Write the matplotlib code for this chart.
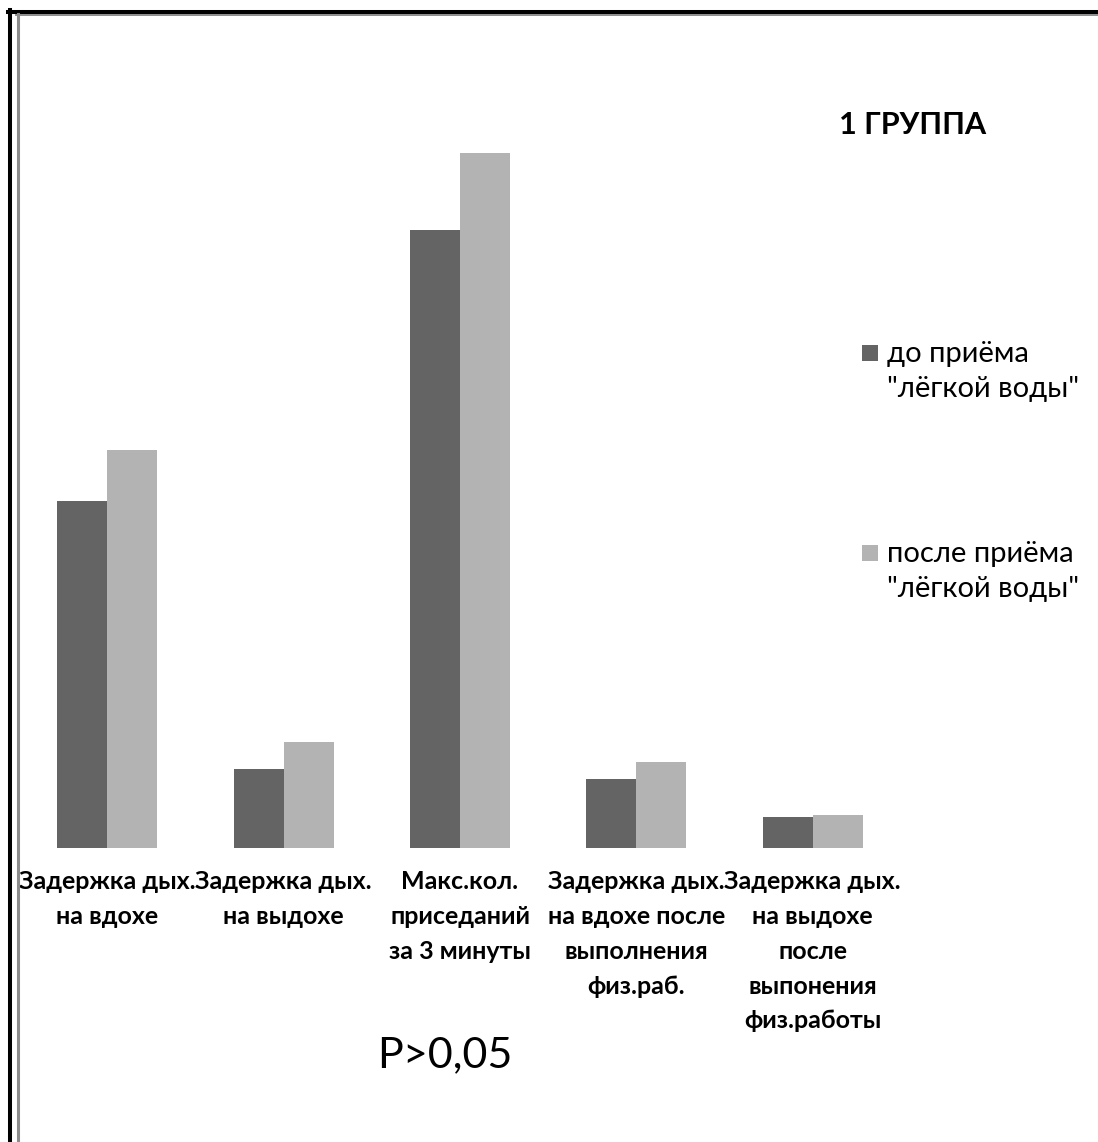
import numpy as np
import matplotlib.pyplot as plt
from matplotlib.lines import Line2D
from matplotlib.patches import Rectangle

# categories and values
categories = ['Задержка дых.\nна вдохе',
              'Задержка дых.\nна выдохе',
              'Макс.кол.\nприседаний\nза 3 минуты',
              'Задержка дых.\nна вдохе после\nвыполнения\nфиз.раб.',
              'Задержка дых.\nна выдохе\nпосле\nвыпонения\nфиз.работы']
before = [45.0, 10.2, 80.0, 8.9, 4.0]
after = [51.5, 13.7, 90.0, 11.1, 4.3]
series_names = ['до приёма\n"лёгкой воды"', 'после приёма\n"лёгкой воды"']
colors = ['#646464', '#b3b3b3']

plt.rcParams['font.family'] = ['Lato', 'DejaVu Sans']

W, H = 1098, 1142
fig = plt.figure(figsize=(W / 100, H / 100), dpi=100)
ax = fig.add_axes([19 / W, 1 - 848 / H, 882 / W, 818 / H])

x = np.arange(len(categories))
bw = 0.283
ax.bar(x - bw / 2, before, bw, color=colors[0])
ax.bar(x + bw / 2, after, bw, color=colors[1])

ax.set_xlim(-0.5, len(categories) - 0.5)
ax.set_ylim(0, 818 / 7.72)
ax.set_yticks([])
ax.set_xticks(x)
ax.set_xticklabels(categories, fontsize=18, fontweight='bold', linespacing=1.62)
ax.tick_params(axis='x', length=0, pad=16)
for s in ax.spines.values():
    s.set_visible(False)

# legend drawn by hand so the square sits on the first line
leg_y = [353, 553]
for name, col, yy in zip(series_names, colors, leg_y):
    fig.add_artist(Rectangle((862 / W, 1 - (yy + 8) / H), 16 / W, 16 / H,
                             facecolor=col, edgecolor='none',
                             transform=fig.transFigure))
    fig.text(887 / W, 1 - (yy - 12) / H, name, fontsize=21, ha='left', va='top',
             linespacing=1.45)

fig.text(913 / W, 1 - 125 / H, '1 ГРУППА', fontsize=22, fontweight='bold',
         ha='center', va='center')
fig.text(445 / W, 1 - 1055 / H, 'P>0,05', fontsize=31, ha='center', va='center')

# outer frame (clipped at right/bottom)
fig.add_artist(Line2D([10 / W, 10 / W], [0, 1 - 10 / H], color='black', lw=2.9,
                      transform=fig.transFigure))
fig.add_artist(Line2D([8 / W, 1], [1 - 12 / H, 1 - 12 / H], color='black', lw=2.9,
                      transform=fig.transFigure))
fig.add_artist(Line2D([17.5 / W, 17.5 / W], [0, 1 - 14 / H], color='#8c8c8c', lw=2.2,
                      transform=fig.transFigure))
fig.add_artist(Line2D([16 / W, 1], [1 - 15 / H, 1 - 15 / H], color='#8c8c8c', lw=1.4,
                      transform=fig.transFigure))

fig.savefig('out.png', dpi=100)
